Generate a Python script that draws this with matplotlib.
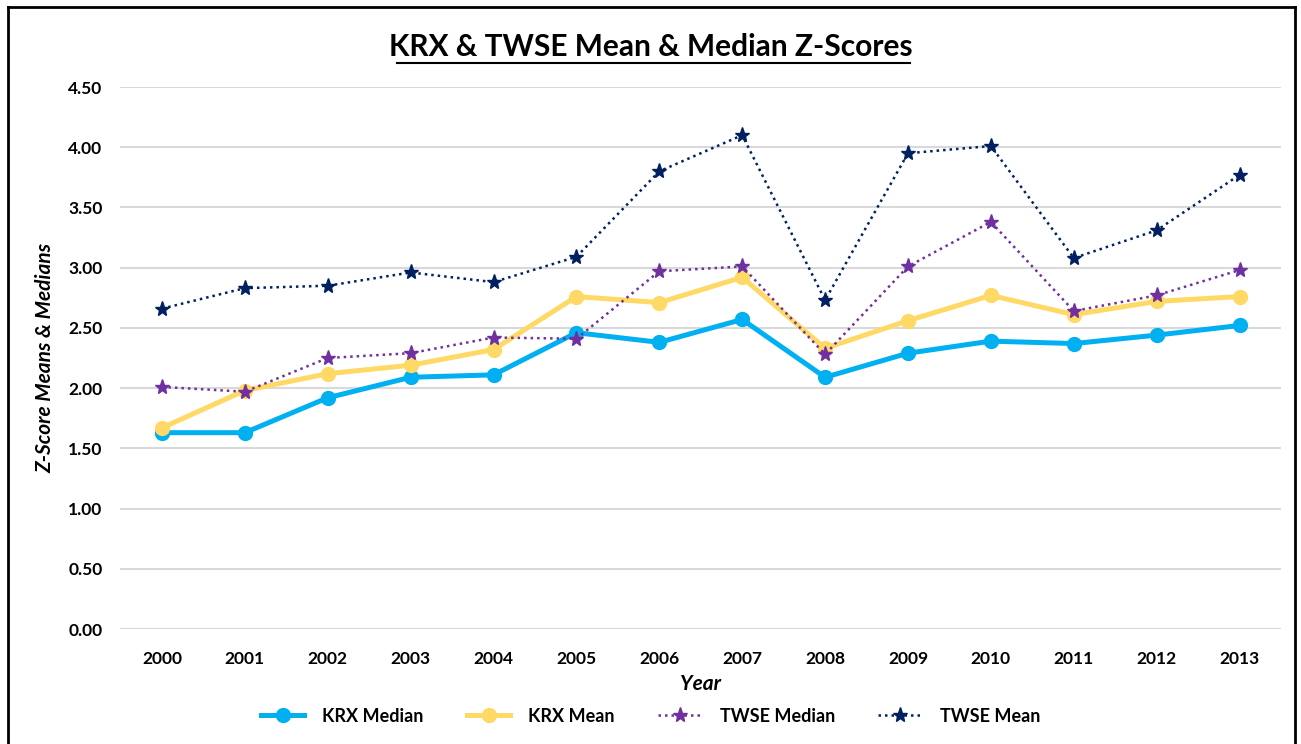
import matplotlib.pyplot as plt
from matplotlib.lines import Line2D

plt.rcParams['font.family'] = ['Lato', 'DejaVu Sans']

years = ['2000', '2001', '2002', '2003', '2004', '2005', '2006',
         '2007', '2008', '2009', '2010', '2011', '2012', '2013']
krx_median = [1.63, 1.63, 1.92, 2.09, 2.11, 2.46, 2.38, 2.57, 2.09, 2.29, 2.39, 2.37, 2.44, 2.52]
krx_mean = [1.67, 1.98, 2.12, 2.19, 2.32, 2.76, 2.71, 2.92, 2.33, 2.56, 2.77, 2.61, 2.72, 2.76]
twse_median = [2.01, 1.97, 2.25, 2.29, 2.42, 2.41, 2.97, 3.01, 2.28, 3.01, 3.38, 2.64, 2.77, 2.98]
twse_mean = [2.66, 2.83, 2.85, 2.96, 2.88, 3.09, 3.80, 4.10, 2.73, 3.95, 4.01, 3.08, 3.31, 3.77]
y_ticks = [0.0, 0.5, 1.0, 1.5, 2.0, 2.5, 3.0, 3.5, 4.0, 4.5]

fig = plt.figure(figsize=(13.01, 7.44), dpi=100)
ax = fig.add_axes([120.5 / 1301, 1 - 629 / 744, (1281 - 120.5) / 1301, (629 - 87) / 744])

x = range(len(years))
ax.plot(x, krx_median, color='#00B0F0', lw=3.6, marker='o', ms=10, label='KRX Median', zorder=3)
ax.plot(x, krx_mean, color='#FFD966', lw=3.6, marker='o', ms=10, label='KRX Mean', zorder=3)
ax.plot(x, twse_median, color='#7030A0', lw=1.8, ls=(0, (1, 1.6)), marker='*', ms=11,
        label='TWSE Median', zorder=4)
ax.plot(x, twse_mean, color='#002060', lw=1.8, ls=(0, (1, 1.6)), marker='*', ms=11,
        label='TWSE Mean', zorder=4)

ax.set_xlim(-0.5, len(years) - 0.5)
ax.set_ylim(0, 4.5)
ax.set_xticks(list(x))
ax.set_xticklabels(years)
ax.set_yticks(y_ticks)
ax.set_yticklabels([f'{v:.2f}' for v in y_ticks])
ax.tick_params(length=0, labelsize=12.5)
ax.tick_params(axis='x', pad=16)
ax.tick_params(axis='y', pad=13)
for lbl in ax.get_xticklabels() + ax.get_yticklabels():
    lbl.set_fontweight('bold')
ax.grid(axis='y', color='#D9D9D9', lw=1.5, zorder=0)
ax.set_axisbelow(True)
for s in ax.spines.values():
    s.set_visible(False)

ax.set_xlabel('Year', fontsize=15, fontweight='bold', style='italic', labelpad=5)
ax.set_ylabel('Z-Score Means & Medians', fontsize=15, fontweight='bold', style='italic', labelpad=9)

# title with underline
fig.text(0.5, 1 - 47 / 744, 'KRX & TWSE Mean & Median Z-Scores', ha='center', va='center',
         fontsize=21.5, fontweight='bold')
fig.add_artist(Line2D([397 / 1301, 910 / 1301], [1 - 63 / 744] * 2, color='black', lw=1.5))

fig.legend(loc='center', bbox_to_anchor=(0.5, 1 - 716 / 744), ncol=4, frameon=False,
           handlelength=2.4, handletextpad=1.0, columnspacing=2.4,
           prop={'weight': 'bold', 'size': 13})

# outer border (bottom is cut off)
for xs, ys in [([8, 8], [7, 744]), ([8, 1295], [7, 7]), ([1295, 1295], [7, 744])]:
    fig.add_artist(Line2D([v / 1301 for v in xs], [1 - v / 744 for v in ys], color='black', lw=2))

fig.savefig('out.png', dpi=100)
